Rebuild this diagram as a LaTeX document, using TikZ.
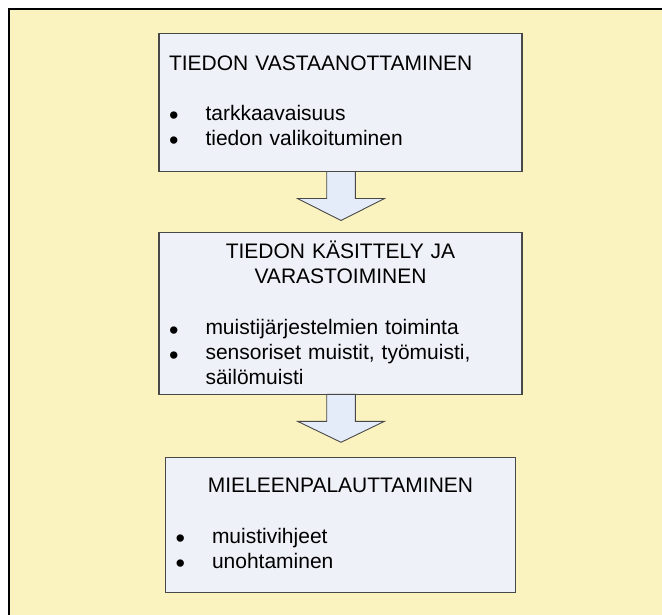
\documentclass[tikz,border=0pt]{standalone}
\usepackage{fontspec}
\setmainfont{Liberation Sans}
\usetikzlibrary{positioning}
\definecolor{bgyellow}{RGB}{250,243,192}
\definecolor{boxfill}{RGB}{238,241,247}
\definecolor{arrowfill}{RGB}{229,236,249}
\definecolor{edgegray}{RGB}{72,72,72}
\newcommand{\bul}{\makebox[36.5pt][l]{\raisebox{-4.5pt}{\fontsize{27}{25}\selectfont\textbullet}}}
\tikzset{stagebox/.style={draw=edgegray, line width=1.2pt, fill=boxfill, outer sep=0pt,
  minimum width=363pt, inner xsep=10pt, text width=343pt, align=left,
  font=\fontsize{21}{25}\selectfont},
  downarrow/.style={draw=edgegray, line width=0.9pt, fill=arrowfill}}

\begin{document}
\begin{tikzpicture}[x=1pt,y=-1pt]
\useasboundingbox (0,0) rectangle (662,615);
\clip (0,0) rectangle (662,615);
\fill[white] (0,0) rectangle (662,615);
\draw[fill=bgyellow, line width=1.3pt] (9,9) rectangle (690,650);
\node[stagebox, minimum height=138pt] (b1) at (340.5,102.5)
  {TIEDON VASTAANOTTAMINEN\\[25pt]\bul tarkkaavaisuus\\\bul tiedon valikoituminen};
\node[stagebox, minimum height=162pt, below=60.8pt of b1] (b2)
  {\makebox[\linewidth]{TIEDON KÄSITTELY JA}\\\makebox[\linewidth]{VARASTOIMINEN}\\[26pt]%
   \bul muistijärjestelmien toiminta\\\bul sensoriset muistit, työmuisti,\\\hspace*{36.5pt}säilömuisti};
\node[stagebox, minimum width=350pt, text width=330pt, minimum height=135pt, below=63.4pt of b2] (b3)
  {\makebox[\linewidth]{MIELEENPALAUTTAMINEN}\\[26pt]\bul muistivihjeet\\\bul unohtaminen};
\draw[downarrow] (b1.south) ++(0.5,0) ++(-14.3,0) -- ++(0,27) -- ++(-29.2,0) -- ++(43.5,22)
  -- ++(43.5,-22) -- ++(-29.2,0) -- ++(0,-27) -- cycle;
\draw[downarrow] (b2.south) ++(0.5,0) ++(-14.3,0) -- ++(0,27) -- ++(-29.2,0) -- ++(43.5,21)
  -- ++(43.5,-21) -- ++(-29.2,0) -- ++(0,-27) -- cycle;
\end{tikzpicture}
\end{document}
